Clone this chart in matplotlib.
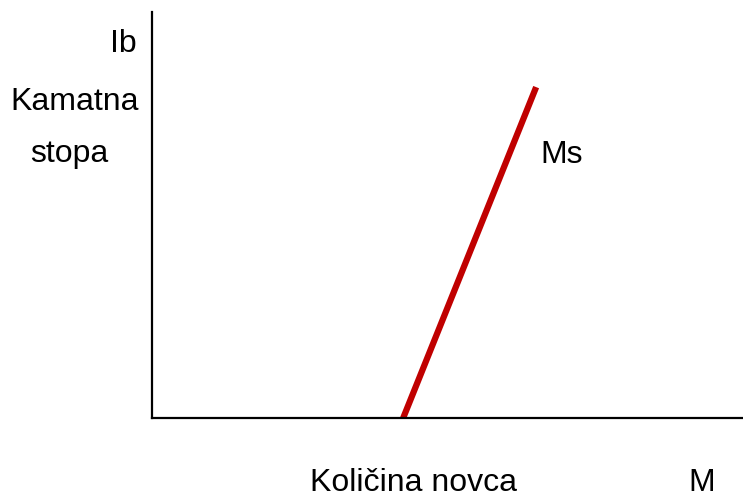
import matplotlib.pyplot as plt

# Ms krivulja (kolicina novca, kamatna stopa)
ms_x = [4.25, 6.5]
ms_y = [0.0, 8.15]

W, H = 743, 498

plt.rcParams['font.family'] = ['Liberation Sans', 'DejaVu Sans']

fig = plt.figure(figsize=(W / 100, H / 100), dpi=100)
ax = fig.add_axes([152 / W, 1 - 418 / H, 1 - 152 / W, (418 - 12) / H])
ax.set_xlim(0, 10)
ax.set_ylim(0, 10)

ax.plot(ms_x, ms_y, color='#c00000', lw=4.5, solid_capstyle='butt')

for s in ['top', 'right']:
    ax.spines[s].set_visible(False)
for s in ['left', 'bottom']:
    ax.spines[s].set_linewidth(1.6)
    ax.spines[s].set_color('black')
ax.set_xticks([])
ax.set_yticks([])

def label(txt, x, y):
    # x = sredina teksta, y = bazna linija (pikseli)
    fig.text(x / W, 1 - y / H, txt, ha='center', va='baseline', fontsize=23)

label('Ib', 123, 52)
label('Kamatna', 75, 110)
label('stopa', 69, 162)
label('Ms', 562, 163)
label('Količina novca', 414, 491)
label('M', 702, 491)

fig.savefig('out.png', dpi=100)
